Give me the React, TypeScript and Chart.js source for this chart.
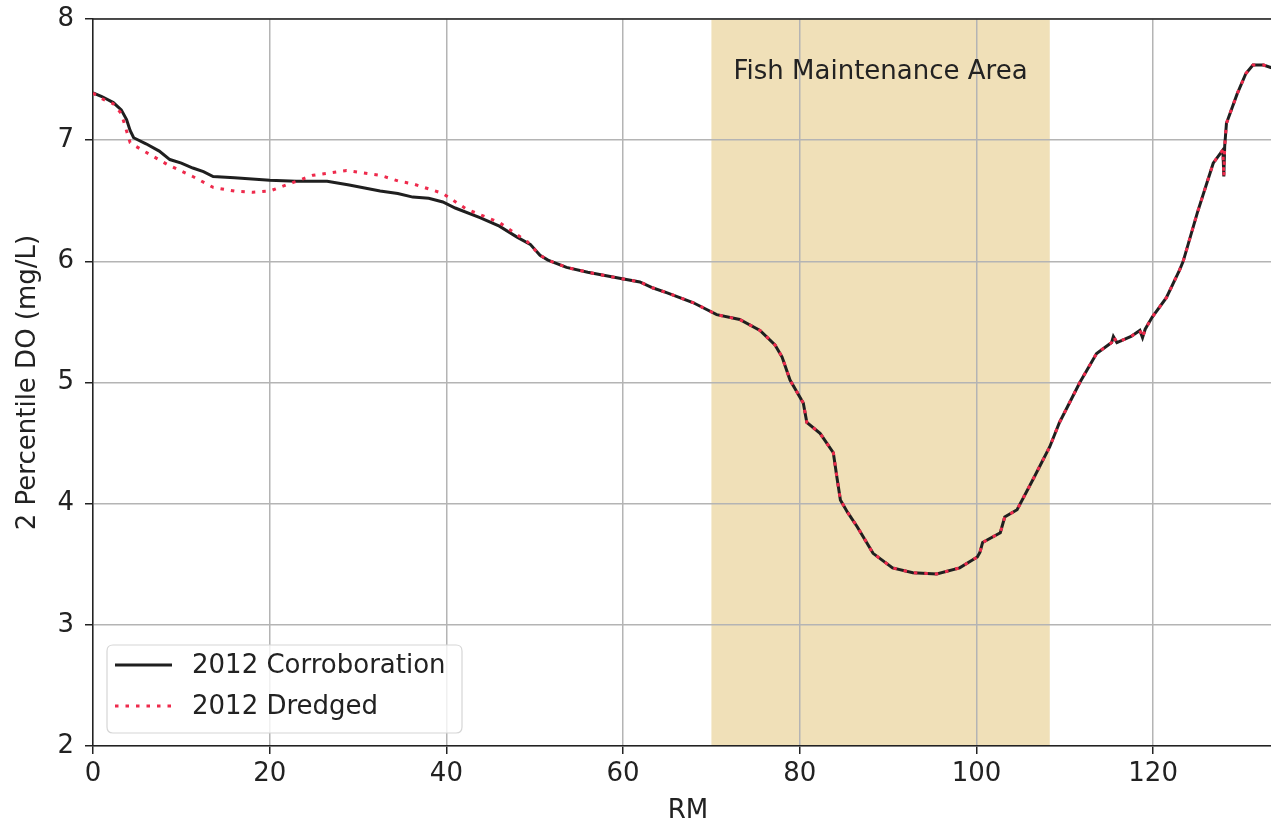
import React, { useEffect, useRef } from "react";
import { Chart, registerables } from "chart.js";

Chart.register(...registerables);

// River mile positions and 2nd-percentile dissolved oxygen (mg/L)
const corroborationRM = [
  0, 1, 2.3, 3.2, 3.8, 4.2, 4.6, 6, 7.5, 8.7, 10, 11.3, 12.5, 13.6, 16, 20, 23, 26.5, 29,
  32.5, 34.5, 36.2, 38, 39.6, 41, 43.8, 46, 48, 49.5, 50.6,
];
const corroborationDO = [
  7.39, 7.36, 7.31, 7.25, 7.17, 7.08, 7.02, 6.97, 6.91, 6.84, 6.81, 6.77, 6.74, 6.7, 6.69,
  6.67, 6.66, 6.66, 6.63, 6.58, 6.56, 6.53, 6.52, 6.49, 6.44, 6.36, 6.29, 6.2, 6.14, 6.05,
];

const dredgedRM = [
  0, 0.8, 2.3, 3.2, 4.2, 4.6, 6, 8.4, 11.3, 13.6, 16, 18.1, 20, 22.6, 24.9, 28.7, 32.5,
  34.7, 36.2, 39.6, 42.3, 46, 49.2, 50.6,
];
const dredgedDO = [
  7.39, 7.35, 7.3, 7.22, 6.98, 6.96, 6.9, 6.8, 6.7, 6.61, 6.58, 6.57, 6.58, 6.65, 6.71,
  6.75, 6.71, 6.66, 6.64, 6.56, 6.43, 6.32, 6.16, 6.05,
];

// Downstream reach where both runs coincide
const sharedRM = [
  51.5, 53.6, 56, 59.6, 61.9, 63.4, 65, 67.9, 70.6, 73.2, 75.5, 77.2, 78, 78.9, 80.4, 80.8,
  82.3, 83.8, 84.2, 84.6, 85.4, 86.5, 88.3, 90.5, 92.8, 95.5, 98.1, 100.1, 100.4, 100.7,
  102.7, 103.2, 104.6, 106.4, 108.3, 109.4, 111.7, 113.6, 115.3, 115.5, 115.9, 117.5, 118.5,
  118.8, 119.1, 119.9, 121.5, 123, 123.4, 125, 126.1, 126.8, 127.9, 128.0, 128.1, 128.3,
  129.5, 130.5, 131.3, 132.5, 133.3, 134.7,
];
const sharedDO = [
  6.01, 5.95, 5.91, 5.86, 5.83, 5.78, 5.74, 5.66, 5.56, 5.52, 5.43, 5.31, 5.21, 5.02, 4.83,
  4.67, 4.58, 4.42, 4.22, 4.03, 3.93, 3.81, 3.59, 3.47, 3.43, 3.42, 3.47, 3.56, 3.6, 3.68,
  3.76, 3.89, 3.95, 4.2, 4.47, 4.67, 5.0, 5.24, 5.33, 5.38, 5.33, 5.38, 5.43, 5.37, 5.44,
  5.54, 5.7, 5.93, 6.0, 6.4, 6.65, 6.81, 6.92, 6.7, 6.95, 7.14, 7.38, 7.55, 7.62, 7.62,
  7.6, 7.59,
];

const xTicks = [0, 20, 40, 60, 80, 100, 120];
const yTicks = [2, 3, 4, 5, 6, 7, 8];
const xRange = [0, 134.7];
const yRange = [2, 8];
const fishAreaRange = [70, 108.3];
const fishAreaLabel = "Fish Maintenance Area";
const seriesLabels = ["2012 Corroboration", "2012 Dredged"];
const xTitle = "RM";
const yTitle = "2 Percentile DO (mg/L)";

const FONT = "'DejaVu Sans', sans-serif";
const FS = 26;
const LINE_COLOR = "#1f1f1f";
const DOT_COLOR = "#ee2a4c";
const DOT_DASH = [3.5, 7];
const BAND_COLOR = "rgb(240, 224, 184)";

const toPoints = (xs: number[], ys: number[]) => xs.map((x, i) => ({ x, y: ys[i] }));

const bandPlugin = {
  id: "fishBand",
  beforeDraw(chart: any) {
    const { ctx, chartArea, scales } = chart;
    const x0 = scales.x.getPixelForValue(fishAreaRange[0]);
    const x1 = scales.x.getPixelForValue(fishAreaRange[1]);
    ctx.save();
    ctx.fillStyle = BAND_COLOR;
    ctx.fillRect(x0, chartArea.top, x1 - x0, chartArea.bottom - chartArea.top);
    ctx.restore();
  },
  beforeDatasetsDraw(chart: any) {
    const { ctx, scales } = chart;
    const xc = scales.x.getPixelForValue((fishAreaRange[0] + fishAreaRange[1]) / 2);
    ctx.save();
    ctx.font = `${FS}px ${FONT}`;
    ctx.fillStyle = "#222";
    ctx.textAlign = "center";
    ctx.textBaseline = "middle";
    ctx.fillText(fishAreaLabel, xc, 72);
    ctx.restore();
  },
  afterDraw(chart: any) {
    const { ctx, chartArea } = chart;
    ctx.save();
    // top spine
    ctx.strokeStyle = "#222";
    ctx.lineWidth = 1.5;
    ctx.beginPath();
    ctx.moveTo(chartArea.left, chartArea.top);
    ctx.lineTo(chartArea.right, chartArea.top);
    ctx.stroke();

    // legend box
    const bx = 107, by = 645, bw = 355, bh = 88, r = 6;
    ctx.beginPath();
    ctx.moveTo(bx + r, by);
    ctx.lineTo(bx + bw - r, by);
    ctx.quadraticCurveTo(bx + bw, by, bx + bw, by + r);
    ctx.lineTo(bx + bw, by + bh - r);
    ctx.quadraticCurveTo(bx + bw, by + bh, bx + bw - r, by + bh);
    ctx.lineTo(bx + r, by + bh);
    ctx.quadraticCurveTo(bx, by + bh, bx, by + bh - r);
    ctx.lineTo(bx, by + r);
    ctx.quadraticCurveTo(bx, by, bx + r, by);
    ctx.closePath();
    ctx.fillStyle = "rgba(255,255,255,0.8)";
    ctx.fill();
    ctx.strokeStyle = "#d6d6d6";
    ctx.lineWidth = 1.2;
    ctx.stroke();

    const rows = [665, 706];
    ctx.lineWidth = 3;
    ctx.strokeStyle = LINE_COLOR;
    ctx.setLineDash([]);
    ctx.beginPath();
    ctx.moveTo(115, rows[0]);
    ctx.lineTo(172, rows[0]);
    ctx.stroke();
    ctx.strokeStyle = DOT_COLOR;
    ctx.setLineDash(DOT_DASH);
    ctx.beginPath();
    ctx.moveTo(115, rows[1]);
    ctx.lineTo(172, rows[1]);
    ctx.stroke();
    ctx.setLineDash([]);

    ctx.font = `${FS}px ${FONT}`;
    ctx.fillStyle = "#222";
    ctx.textAlign = "left";
    ctx.textBaseline = "middle";
    ctx.fillText(seriesLabels[0], 192, rows[0] + 1);
    ctx.fillText(seriesLabels[1], 192, rows[1] + 1);
    ctx.restore();
  },
};

export default function App() {
  const canvasRef = useRef<HTMLCanvasElement | null>(null);

  useEffect(() => {
    if (!canvasRef.current) return;
    const chart = new Chart(canvasRef.current, {
      type: "line",
      data: {
        datasets: [
          {
            label: seriesLabels[0],
            data: [...toPoints(corroborationRM, corroborationDO), ...toPoints(sharedRM, sharedDO)],
            borderColor: LINE_COLOR,
            borderWidth: 3,
            pointRadius: 0,
            tension: 0,
            order: 2,
          },
          {
            label: seriesLabels[1],
            data: [...toPoints(dredgedRM, dredgedDO), ...toPoints(sharedRM, sharedDO)],
            borderColor: DOT_COLOR,
            borderWidth: 3,
            borderDash: DOT_DASH,
            pointRadius: 0,
            tension: 0,
            order: 1,
          },
        ],
      },
      options: {
        animation: false,
        responsive: false,
        devicePixelRatio: 1,
        parsing: false,
        layout: { padding: { top: 19, right: 7, left: 0, bottom: 0 } },
        plugins: {
          legend: { display: false },
          tooltip: { enabled: false },
        },
        scales: {
          x: {
            type: "linear",
            min: xRange[0],
            max: xRange[1],
            afterBuildTicks: (scale: any) => {
              scale.ticks = xTicks.map((v) => ({ value: v }));
            },
            afterFit: (scale: any) => {
              scale.height = 81;
              scale.paddingLeft = 0;
              scale.paddingRight = 0;
            },
            grid: { color: "#b4b4b4", lineWidth: 1.5, tickLength: 8, tickColor: "#222", tickWidth: 1.5 },
            border: { display: true, color: "#222", width: 1.5 },
            ticks: {
              color: "#222",
              font: { family: FONT, size: FS },
              padding: 5,
              maxRotation: 0,
              callback: (v: any) => String(v),
            },
            title: {
              display: true,
              text: xTitle,
              color: "#222",
              font: { family: FONT, size: FS },
              padding: { top: 0, bottom: 0 },
            },
          },
          y: {
            type: "linear",
            min: yRange[0],
            max: yRange[1],
            afterBuildTicks: (scale: any) => {
              scale.ticks = yTicks.map((v) => ({ value: v }));
            },
            afterFit: (scale: any) => {
              scale.width = 93;
              scale.paddingTop = 0;
              scale.paddingBottom = 0;
            },
            grid: { color: "#b4b4b4", lineWidth: 1.5, tickLength: 8, tickColor: "#222", tickWidth: 1.5 },
            border: { display: true, color: "#222", width: 1.5 },
            ticks: {
              color: "#222",
              font: { family: FONT, size: FS },
              padding: 11,
              callback: (v: any) => String(v),
            },
            title: {
              display: true,
              text: yTitle,
              color: "#222",
              font: { family: FONT, size: FS },
              padding: { top: 13, bottom: 0 },
            },
          },
        },
      },
      plugins: [bandPlugin],
    });
    return () => chart.destroy();
  }, []);

  return (
    <div
      style={{
        position: "fixed",
        left: 0,
        top: 0,
        width: 1271,
        height: 827,
        overflow: "hidden",
        background: "#fff",
      }}
    >
      <canvas ref={canvasRef} width={1290} height={827} style={{ display: "block" }} />
    </div>
  );
}
